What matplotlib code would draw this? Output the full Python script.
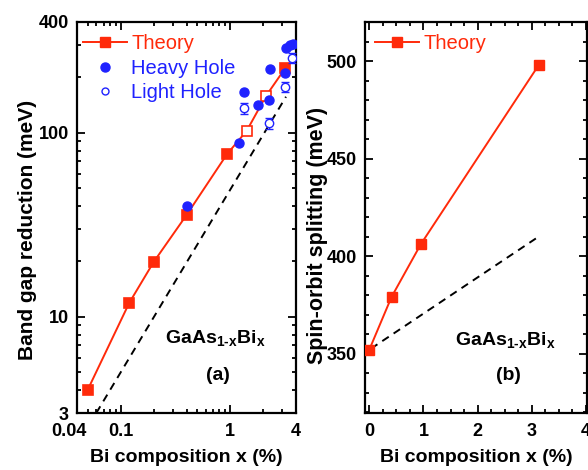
import matplotlib
matplotlib.use("Agg")
import matplotlib.pyplot as plt
import numpy as np
from matplotlib.ticker import FixedLocator, NullFormatter, MultipleLocator
from matplotlib.lines import Line2D
import matplotlib.transforms as mtransforms

plt.rcParams['font.family'] = ['Liberation Sans', 'DejaVu Sans']
plt.rcParams['mathtext.fontset'] = 'custom'
plt.rcParams['mathtext.rm'] = 'Liberation Sans:bold'
plt.rcParams['mathtext.bf'] = 'Liberation Sans:bold'
plt.rcParams['mathtext.it'] = 'Liberation Sans:bold'

RED = '#ff2a0a'
BLUE = '#1f22ff'

# ---- Panel (a) data ----
theory_x = [0.05, 0.12, 0.2, 0.4, 0.94, 1.42, 2.12, 3.2]
theory_gap = [4.0, 11.9, 19.8, 35.7, 76.7, 102.6, 158, 225]
theory_open = [False, False, False, False, False, True, True, False]

heavy_x = [0.40, 1.21, 1.34, 1.81, 2.25, 2.32, 3.2, 3.24, 3.55, 3.72]
heavy_y = [40.2, 88.3, 167, 141, 150, 221, 212, 290, 300, 303]

light_x = [1.34, 2.28, 3.2, 3.65]
light_y = [136, 113, 178, 254]
light_err = [9, 8, 11, 16]

dash_a_x = [0.06, 3.24]
dash_a_y = [3.0, 157]

# ---- Panel (b) data ----
so_x = [0.0, 0.41, 0.95, 3.13]
so_y = [352, 379, 406, 498]

dash_b_x = [0.03, 3.13]
dash_b_y = [352.5, 410]

fig = plt.figure(figsize=(5.88, 4.70), dpi=100)
W, H = 588, 470
axA = fig.add_axes([77 / W, 1 - 413 / H, 219 / W, 391 / H])
axB = fig.add_axes([365 / W, 1 - 413 / H, 222 / W, 391 / H])

lw_sp = 1.6
tick_fs = 13
lab_fs = 14
leg_fs = 14.5
ann_fs = 14

# Panel (a)
axA.set_xscale('log')
axA.set_yscale('log')
axA.plot(dash_a_x, dash_a_y, ls=(0, (4, 3)), color='black', lw=1.4, zorder=2)
axA.plot(theory_x, theory_gap, '-', color=RED, lw=1.4, zorder=3)
for xv, yv, op in zip(theory_x, theory_gap, theory_open):
    axA.plot([xv], [yv], 's', ms=7, mec=RED, mew=1.2,
             mfc='white' if op else RED, zorder=4)
axA.plot(heavy_x, heavy_y, 'o', color=BLUE, ms=6.5, zorder=5, ls='none')
axA.errorbar(light_x, light_y, yerr=light_err, fmt='o', mfc='white', mec=BLUE,
             ecolor=BLUE, ms=6, mew=1.0, elinewidth=1.0, capsize=3, capthick=1.0, zorder=5)
axA.set_xlim(0.04, 4)
axA.set_ylim(3, 400)
axA.xaxis.set_major_locator(FixedLocator([0.04, 0.1, 1, 4]))
axA.set_xticklabels(['0.04', '0.1', '1', '4'])
axA.xaxis.set_minor_locator(FixedLocator([0.05, 0.06, 0.07, 0.08, 0.09, 0.2, 0.3, 0.4, 0.5,
                                          0.6, 0.7, 0.8, 0.9, 2, 3]))
axA.xaxis.set_minor_formatter(NullFormatter())
axA.yaxis.set_major_locator(FixedLocator([3, 10, 100, 400]))
axA.set_yticklabels(['3', '10', '100', '400'])
axA.yaxis.set_minor_locator(FixedLocator([4, 5, 6, 7, 8, 9, 20, 30, 40, 50, 60, 70, 80, 90, 200, 300]))
axA.yaxis.set_minor_formatter(NullFormatter())
axA.set_xlabel('Bi composition x (%)', fontsize=lab_fs, fontweight='bold')
axA.set_ylabel('Band gap reduction (meV)', fontsize=15, fontweight='bold')
axA.xaxis.set_label_coords(0.5, -0.092)
axA.yaxis.set_label_coords(-0.183, 0.468)
axA.text(0.63, 0.192, r'GaAs$_{\mathbf{1\text{-}x}}$Bi$_{\mathbf{x}}$', transform=axA.transAxes,
         ha='center', va='center', fontsize=ann_fs, fontweight='bold')
axA.text(0.645, 0.097, '(a)', transform=axA.transAxes, ha='center', va='center',
         fontsize=ann_fs, fontweight='bold')
hA = [Line2D([], [], color=RED, marker='s', ms=7, lw=1.4),
      Line2D([], [], color=BLUE, marker='o', ms=6.5, ls='none'),
      Line2D([], [], color=BLUE, marker='o', mfc='white', ms=5, ls='none')]
legA = axA.legend(hA, ['Theory', 'Heavy Hole', 'Light Hole'], loc='upper left',
                  frameon=False, fontsize=leg_fs, handlelength=2.2, handletextpad=0.2,
                  borderaxespad=0.1, labelspacing=0.28, bbox_to_anchor=(-0.02, 0.995))
for t, c in zip(legA.get_texts(), [RED, BLUE, BLUE]):
    t.set_color(c)

# Panel (b)
axB.plot(dash_b_x, dash_b_y, ls=(0, (4, 3)), color='black', lw=1.4, zorder=2)
axB.plot(so_x, so_y, '-s', color=RED, lw=1.4, ms=7, zorder=3)
axB.set_xlim(-0.08, 4.02)
axB.set_ylim(319.5, 520)
axB.xaxis.set_major_locator(FixedLocator([0, 1, 2, 3, 4]))
axB.xaxis.set_minor_locator(MultipleLocator(0.25))
axB.yaxis.set_major_locator(FixedLocator([350, 400, 450, 500]))
axB.yaxis.set_minor_locator(MultipleLocator(10))
axB.set_xlabel('Bi composition x (%)', fontsize=lab_fs, fontweight='bold')
axB.set_ylabel('Spin-orbit splitting (meV)', fontsize=15.5, fontweight='bold')
axB.xaxis.set_label_coords(0.5, -0.092)
axB.yaxis.set_label_coords(-0.167, 0.455)
axB.text(0.63, 0.187, r'GaAs$_{\mathbf{1\text{-}x}}$Bi$_{\mathbf{x}}$', transform=axB.transAxes,
         ha='center', va='center', fontsize=ann_fs, fontweight='bold')
axB.text(0.645, 0.097, '(b)', transform=axB.transAxes, ha='center', va='center',
         fontsize=ann_fs, fontweight='bold')
legB = axB.legend([Line2D([], [], color=RED, marker='s', ms=7, lw=1.4)], ['Theory'],
                  loc='upper left', frameon=False, fontsize=leg_fs, handlelength=2.2,
                  handletextpad=0.2, borderaxespad=0.1, bbox_to_anchor=(0.0, 0.995))
legB.get_texts()[0].set_color(RED)

for ax in (axA, axB):
    for s in ax.spines.values():
        s.set_linewidth(lw_sp)
    ax.tick_params(which='both', direction='in', top=True, right=True, width=1.3)
    ax.tick_params(which='major', length=6, labelsize=tick_fs)
    ax.tick_params(axis='x', which='major', pad=7)
    ax.tick_params(axis='y', which='major', pad=6)
    ax.tick_params(which='minor', length=3)
    for lab in ax.get_xticklabels() + ax.get_yticklabels():
        lab.set_fontweight('bold')

# shift the "0.04" label slightly left as in the reference
lab0 = axA.get_xticklabels()[0]
lab0.set_transform(lab0.get_transform() + mtransforms.ScaledTranslation(-8 / 100, 0, fig.dpi_scale_trans))

fig.savefig('out.png', dpi=100)
